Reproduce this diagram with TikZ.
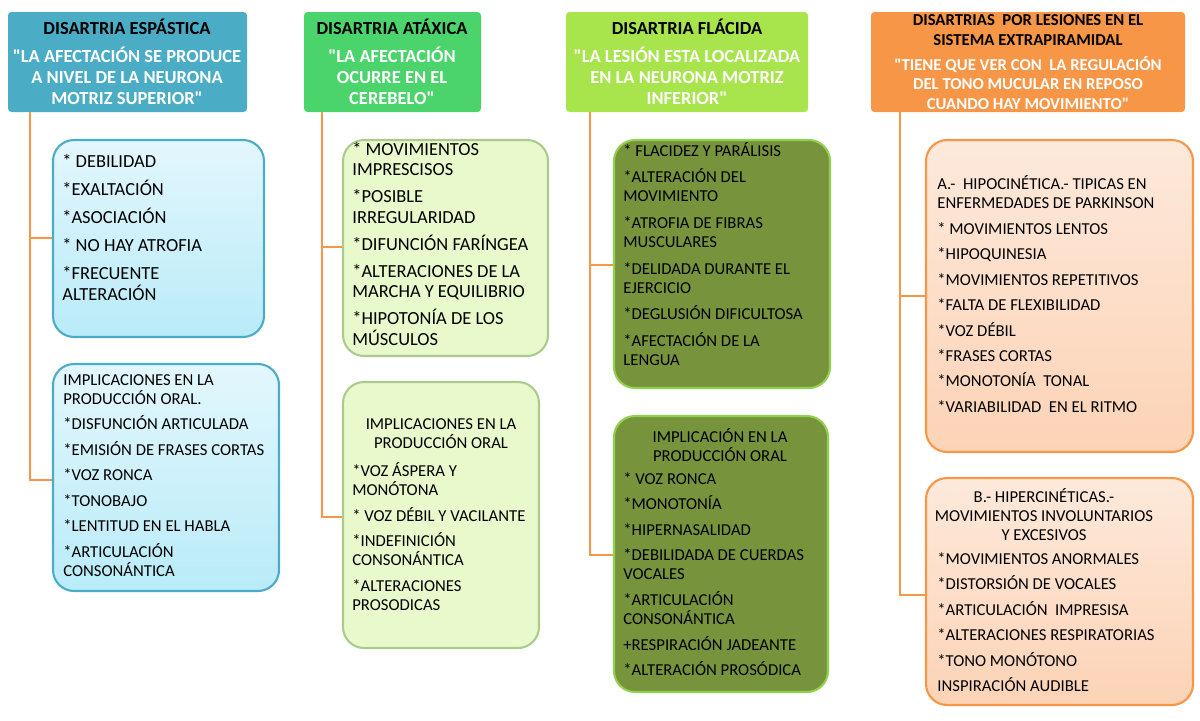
\documentclass[tikz,border=0pt]{standalone}
\usepackage{fontspec}
\setmainfont{Carlito}
\newfontfamily\plainq{Carlito}
\usetikzlibrary{positioning}
\definecolor{hdblue}{HTML}{4BACC6}
\definecolor{hdgreen}{HTML}{4CD46C}
\definecolor{hdlime}{HTML}{A8E44C}
\definecolor{hdorange}{HTML}{F79646}
\definecolor{bxblue}{HTML}{B9EBF9}
\definecolor{bxlime}{HTML}{E8F9CC}
\definecolor{bxolive}{HTML}{77933C}
\definecolor{bxpeach}{HTML}{FCD3B6}
\definecolor{lnlime}{HTML}{92D050}
\newcommand{\qt}{{\plainq"}}
\begin{document}
\begin{tikzpicture}[x=0.02cm,y=-0.02cm,
  head/.style={rounded corners=2pt, align=center, font=\fontsize{10.5}{12}\selectfont\bfseries, inner sep=0pt},
  box/.style={rounded corners=12pt, line width=1.2pt, inner sep=0pt},
  item/.style={align=left, anchor=north west, font=\fontsize{9.5}{11}\selectfont, inner sep=0pt},
  link/.style={draw=hdorange, line width=1.5pt}]
\useasboundingbox (0,0) rectangle (1200,720);
% headers
\fill[hdblue, rounded corners=2pt] (8,12) rectangle (247,112);
\fill[hdgreen, rounded corners=2pt] (304,12) rectangle (481,112);
\fill[hdlime, rounded corners=2pt] (566,12) rectangle (808,112);
\fill[hdorange, rounded corners=2pt] (871,12) rectangle (1185,112);
\node[head] (h1) at (127,27) {DISARTRIA ESPÁSTICA};
\node[head, text=white] (s1) at (127,76) {\qt LA AFECTACIÓN SE PRODUCE\\A NIVEL DE LA NEURONA\\MOTRIZ SUPERIOR\qt};
\node[head] (h2) at (392,27) {DISARTRIA ATÁXICA};
\node[head, text=white] (s2) at (392,76) {\qt LA AFECTACIÓN\\OCURRE EN EL\\CEREBELO\qt};
\node[head] (h3) at (687,27) {DISARTRIA FLÁCIDA};
\node[head, text=white] (s3) at (687,76) {\qt LA LESIÓN ESTA LOCALIZADA\\EN LA NEURONA MOTRIZ\\INFERIOR\qt};
\node[head, font=\fontsize{9.5}{11}\selectfont\bfseries] (h4) at (1028,30) {DISARTRIAS \ POR LESIONES EN EL\\SISTEMA EXTRAPIRAMIDAL};
\node[head, text=white, font=\fontsize{9.5}{11}\selectfont\bfseries] (s4) at (1028,83) {\qt TIENE QUE VER CON \ LA REGULACIÓN\\DEL TONO MUCULAR EN REPOSO\\CUANDO HAY MOVIMIENTO\qt};
% connectors
\draw[link] (30,112) |- (53,238) (30,238) |- (53,480);
\draw[link] (322,112) |- (343,247) (322,247) |- (343,517);
\draw[link] (590,112) |- (614,265) (590,265) |- (614,555);
\draw[link] (900,112) |- (926,296) (900,296) |- (926,595);
% boxes
\draw[box, draw=hdblue, top color=bxblue!40, bottom color=bxblue] (53,140) rectangle (264,337);
\draw[box, draw=hdblue, top color=bxblue!40, bottom color=bxblue] (53,364) rectangle (279,591);
\draw[box, draw=lnlime!80!black!60, fill=bxlime] (343,140) rectangle (548,356);
\draw[box, draw=lnlime!80!black!60, fill=bxlime] (343,382) rectangle (539,648);
\draw[box, draw=lnlime, fill=bxolive] (614,140) rectangle (830,388);
\draw[box, draw=lnlime, fill=bxolive] (614,416) rectangle (828,692);
\draw[box, draw=hdorange, top color=bxpeach!50, bottom color=bxpeach] (926,140) rectangle (1193,452);
\draw[box, draw=hdorange, top color=bxpeach!50, bottom color=bxpeach] (926,478) rectangle (1193,705);
% texts
\node[item, font=\fontsize{10.5}{11.5}\selectfont] (t1) at (62,154) {* DEBILIDAD\\[4.5pt]*EXALTACIÓN\\[4.5pt]*ASOCIACIÓN\\[4.5pt]* NO HAY ATROFIA\\[4.5pt]*FRECUENTE\\ALTERACIÓN};
\node[item] (t2) at (63,374) {IMPLICACIONES EN LA\\PRODUCCIÓN ORAL.\\[3.5pt]*DISFUNCIÓN ARTICULADA\\[3.5pt]*EMISIÓN DE FRASES CORTAS\\[3.5pt]*VOZ RONCA\\[3.5pt]*TONOBAJO\\[3.5pt]*LENTITUD EN EL HABLA\\[3.5pt]*ARTICULACIÓN\\CONSONÁNTICA};
\node[item, font=\fontsize{10.5}{11.5}\selectfont] (t3) at (352,142) {* MOVIMIENTOS\\IMPRESCISOS\\[4pt]*POSIBLE\\IRREGULARIDAD\\[4pt]*DIFUNCIÓN FARÍNGEA\\[4pt]*ALTERACIONES DE LA\\MARCHA Y EQUILIBRIO\\[4pt]*HIPOTONÍA DE LOS\\MÚSCULOS};
\node[item, align=center, anchor=north] (t4h) at (441,418) {IMPLICACIONES EN LA\\PRODUCCIÓN ORAL};
\node[item] (t4) at (352,462) {*VOZ ÁSPERA Y\\MONÓTONA\\[3.5pt]* VOZ DÉBIL Y VACILANTE\\[3.5pt]*INDEFINICIÓN\\CONSONÁNTICA\\[3.5pt]*ALTERACIONES\\PROSODICAS};
\node[item] (t5) at (623,142) {* FLACIDEZ Y PARÁLISIS\\[4pt]*ALTERACIÓN DEL\\MOVIMIENTO\\[4pt]*ATROFIA DE FIBRAS\\MUSCULARES\\[4pt]*DELIDADA DURANTE EL\\EJERCICIO\\[4pt]*DEGLUSIÓN DIFICULTOSA\\[4pt]*AFECTACIÓN DE LA\\LENGUA};
\node[item, align=center, anchor=north] (t6h) at (720,428) {IMPLICACIÓN EN LA\\PRODUCCIÓN ORAL};
\node[item] (t6) at (623,472) {* VOZ RONCA\\[3.5pt]*MONOTONÍA\\[3.5pt]*HIPERNASALIDAD\\[3.5pt]*DEBILIDADA DE CUERDAS\\VOCALES\\[3.5pt]*ARTICULACIÓN\\CONSONÁNTICA\\[3.5pt]+RESPIRACIÓN JADEANTE\\[3.5pt]*ALTERACIÓN PROSÓDICA};
\node[item] (t7) at (937,175) {A.- \ HIPOCINÉTICA.- TIPICAS EN\\ENFERMEDADES DE PARKINSON\\[3.5pt]* MOVIMIENTOS LENTOS\\[3.5pt]*HIPOQUINESIA\\[3.5pt]*MOVIMIENTOS REPETITIVOS\\[3.5pt]*FALTA DE FLEXIBILIDAD\\[3.5pt]*VOZ DÉBIL\\[3.5pt]*FRASES CORTAS\\[3.5pt]*MONOTONÍA \ TONAL\\[3.5pt]*VARIABILIDAD \ EN EL RITMO};
\node[item, align=center, anchor=north] (t8h) at (1044,488) {B.- HIPERCINÉTICAS.-\\MOVIMIENTOS INVOLUNTARIOS\\Y EXCESIVOS};
\node[item] (t8) at (937,552) {*MOVIMIENTOS ANORMALES\\[3.5pt]*DISTORSIÓN DE VOCALES\\[3.5pt]*ARTICULACIÓN \ IMPRESISA\\[3.5pt]*ALTERACIONES RESPIRATORIAS\\[3.5pt]*TONO MONÓTONO\\[3.5pt]INSPIRACIÓN AUDIBLE};
\end{tikzpicture}
\end{document}
